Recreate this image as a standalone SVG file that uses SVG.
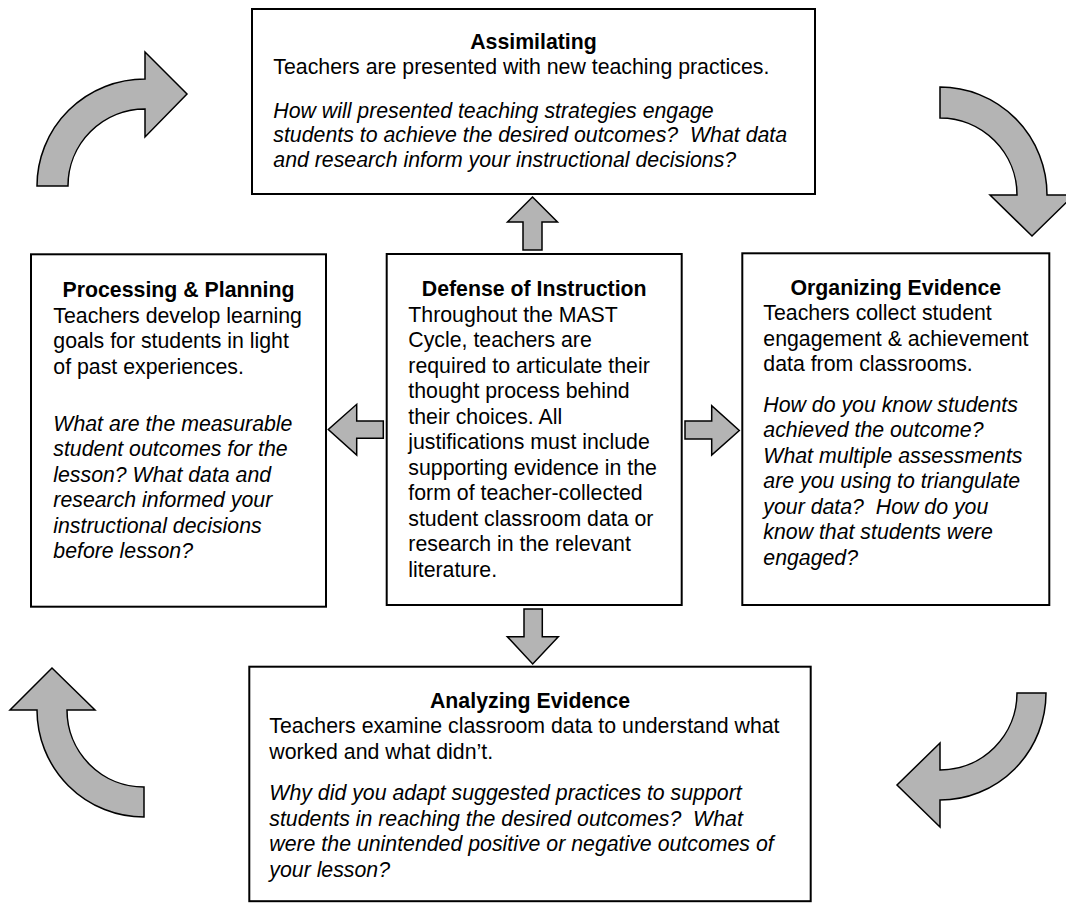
<svg xmlns="http://www.w3.org/2000/svg" width="1066" height="903" viewBox="0 0 1066 903">
<style>
.box{fill:#fff;stroke:#000;stroke-width:2}
.arr{fill:#b4b4b4;stroke:#000;stroke-width:1.5;stroke-linejoin:miter}
text{font-family:"Liberation Sans",Arial,Helvetica,sans-serif;font-size:21.3px;fill:#000;white-space:pre}
.t{font-weight:bold;text-anchor:middle}
.i{font-style:italic}
</style>
<rect width="1066" height="903" fill="#fff"/>
<g id="connectors">
<path class="arr" d="M37,186 A108,107 0 0 1 145,79 L145,52 L187,94 L145,137 L145,109 A77,77 0 0 0 68,186 Z"/>
<path class="arr" d="M940,87 A107,108 0 0 1 1047,195 L1074,195 L1032,236 L990,195 L1017,195 A77,77 0 0 0 940,118 Z"/>
<path class="arr" d="M1046,693 A106,107 0 0 1 940,800 L940,827 L897,785 L940,743 L940,770 A77,77 0 0 0 1017,693 Z"/>
<path class="arr" d="M144,817 A107,107 0 0 1 37,710 L10,710 L52,668 L95,710 L67,710 A77,77 0 0 0 144,787 Z"/>
<path class="arr" d="M523,250 L523,222 L507.5,222 L532.5,197 L557.5,222 L542,222 L542,250 Z"/>
<path class="arr" d="M524,609 L542.3,609 L542.3,636.7 L558.3,636.7 L532.7,664 L507.3,636.7 L524,636.7 Z"/>
<path class="arr" d="M383.3,421 L356.7,421 L356.7,404.3 L328.3,429.5 L356.7,455 L356.7,438.3 L383.3,438.3 Z"/>
<path class="arr" d="M685,421 L711.7,421 L711.7,405.7 L739.3,430.5 L711.7,455 L711.7,439 L685,439 Z"/>
</g>
<g id="assimilating">
<rect class="box" x="252" y="9" width="563" height="185"/>
<text class="t" x="533.5" y="48.5">Assimilating</text>
<text x="273.3" y="73.5">Teachers are presented with new teaching practices.</text>
<text class="i" x="273.3" y="117.5">How will presented teaching strategies engage</text>
<text class="i" x="273.3" y="142" xml:space="preserve">students to achieve the desired outcomes?  What data</text>
<text class="i" x="273.3" y="166.5">and research inform your instructional decisions?</text>
</g>
<g id="processing">
<rect class="box" x="31" y="254.3" width="295" height="352.4"/>
<text class="t" x="178.5" y="297.3">Processing &amp; Planning</text>
<text x="53.3" y="322.7">Teachers develop learning</text>
<text x="53.3" y="348.2">goals for students in light</text>
<text x="53.3" y="373.7">of past experiences.</text>
<text class="i" x="53.3" y="430.7">What are the measurable</text>
<text class="i" x="53.3" y="456.2">student outcomes for the</text>
<text class="i" x="53.3" y="481.7">lesson? What data and</text>
<text class="i" x="53.3" y="507.2">research informed your</text>
<text class="i" x="53.3" y="532.7">instructional decisions</text>
<text class="i" x="53.3" y="558.2">before lesson?</text>
</g>
<g id="defense">
<rect class="box" x="386.7" y="254" width="295" height="351"/>
<text class="t" x="534.2" y="295.7">Defense of Instruction</text>
<text x="408.3" y="321.7">Throughout the MAST</text>
<text x="408.3" y="347.2">Cycle, teachers are</text>
<text x="408.3" y="372.7">required to articulate their</text>
<text x="408.3" y="398.2">thought process behind</text>
<text x="408.3" y="423.7">their choices. All</text>
<text x="408.3" y="449.2">justifications must include</text>
<text x="408.3" y="474.7">supporting evidence in the</text>
<text x="408.3" y="500.2">form of teacher-collected</text>
<text x="408.3" y="525.7">student classroom data or</text>
<text x="408.3" y="551.2">research in the relevant</text>
<text x="408.3" y="576.7">literature.</text>
</g>
<g id="organizing">
<rect class="box" x="742.3" y="253.3" width="307" height="351.7"/>
<text class="t" x="895.8" y="295">Organizing Evidence</text>
<text x="763.3" y="320">Teachers collect student</text>
<text x="763.3" y="345.5">engagement &amp; achievement</text>
<text x="763.3" y="371">data from classrooms.</text>
<text class="i" x="763.3" y="411.7">How do you know students</text>
<text class="i" x="763.3" y="437.2">achieved the outcome?</text>
<text class="i" x="763.3" y="462.7">What multiple assessments</text>
<text class="i" x="763.3" y="488.2">are you using to triangulate</text>
<text class="i" x="763.3" y="513.7" xml:space="preserve">your data?  How do you</text>
<text class="i" x="763.3" y="539.2">know that students were</text>
<text class="i" x="763.3" y="564.7">engaged?</text>
</g>
<g id="analyzing">
<rect class="box" x="249.3" y="666.7" width="561.4" height="234.5"/>
<text class="t" x="530" y="708.3">Analyzing Evidence</text>
<text x="269.3" y="733.3">Teachers examine classroom data to understand what</text>
<text x="269.3" y="759.3">worked and what didn’t.</text>
<text class="i" x="269.3" y="800">Why did you adapt suggested practices to support</text>
<text class="i" x="269.3" y="826" xml:space="preserve">students in reaching the desired outcomes?  What</text>
<text class="i" x="269.3" y="851">were the unintended positive or negative outcomes of</text>
<text class="i" x="269.3" y="876.7">your lesson?</text>
</g>
</svg>
